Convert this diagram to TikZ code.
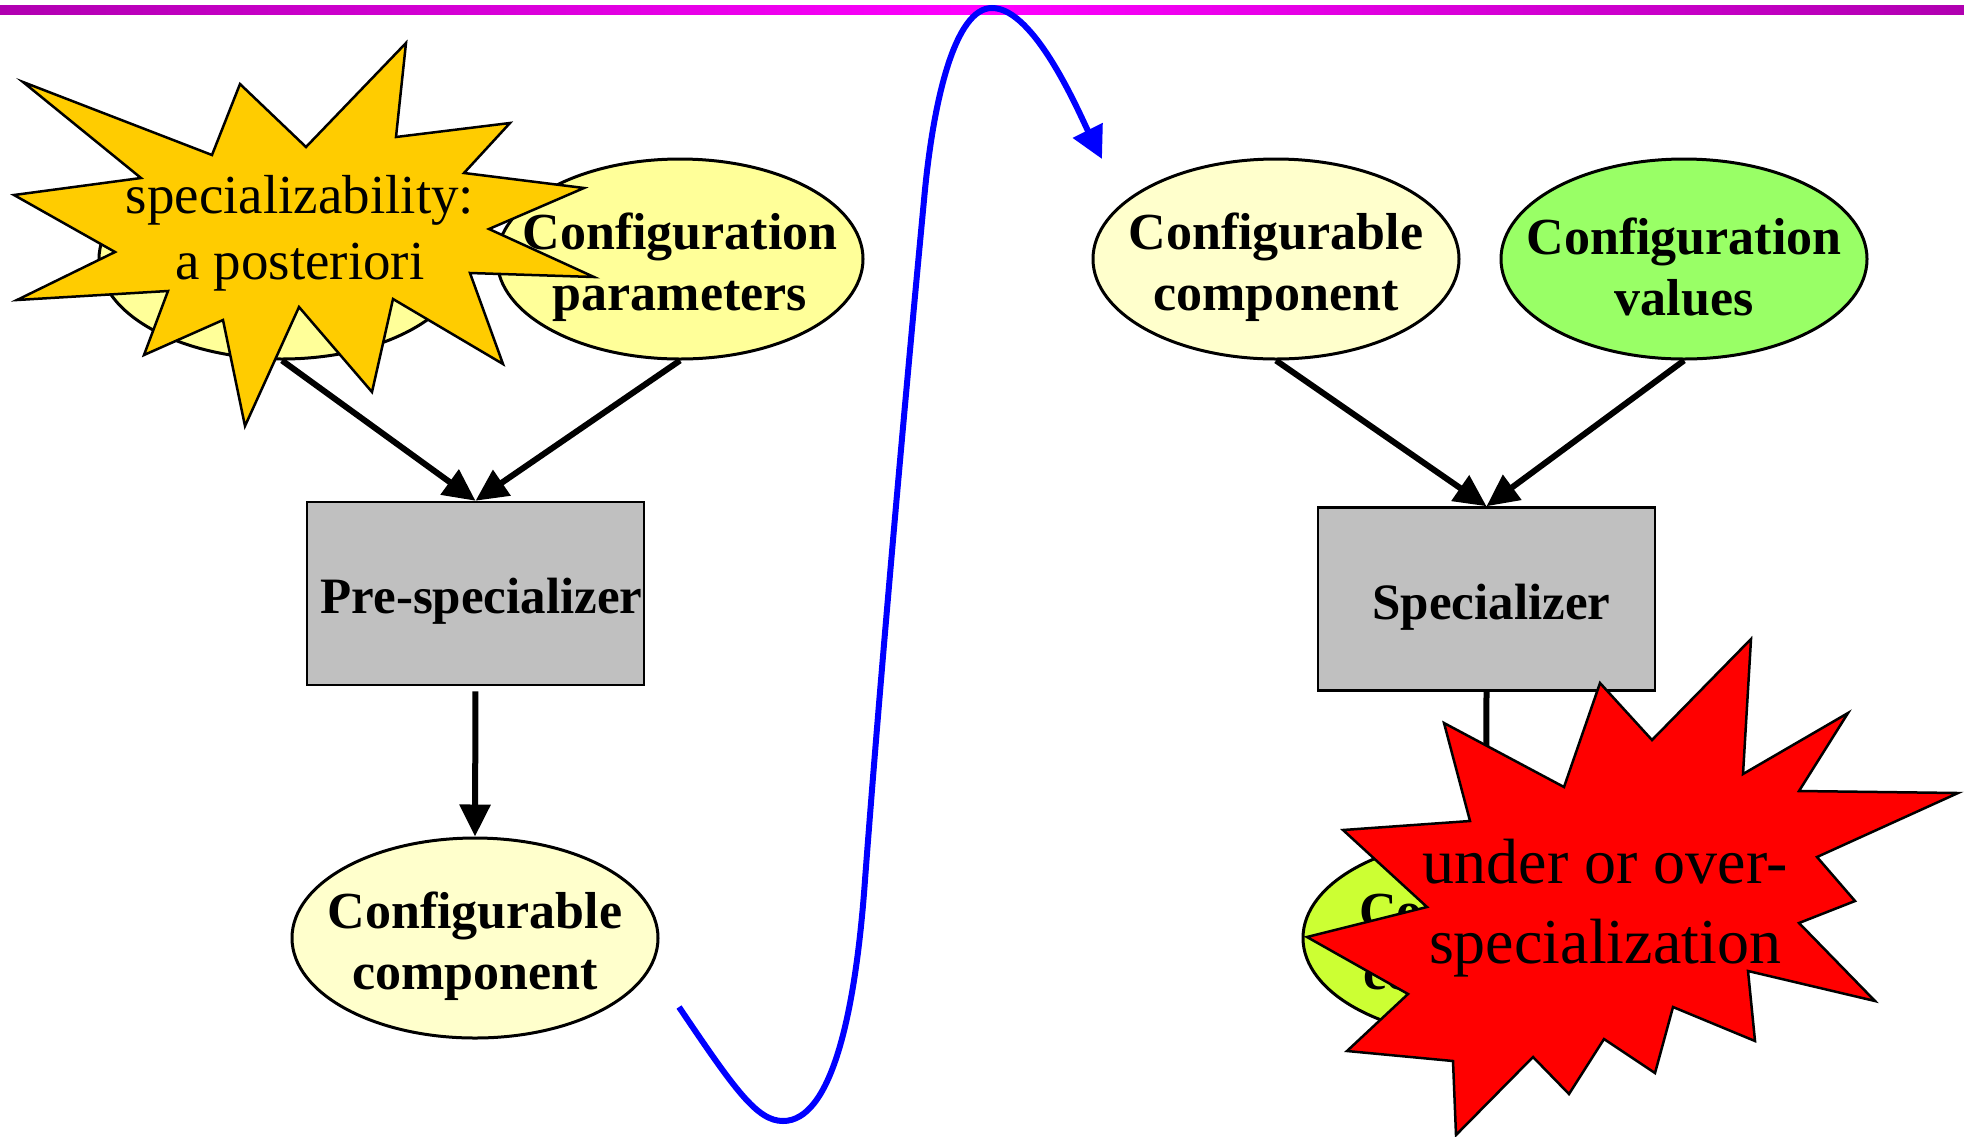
\documentclass[tikz,border=0pt]{standalone}
\usepackage{fontspec}
\setmainfont{Liberation Serif}
\usetikzlibrary{shapes.geometric,arrows.meta}
\definecolor{paleyellow}{HTML}{FFFFCC}
\definecolor{lightyellow}{HTML}{FFFF99}
\definecolor{lightgreen}{HTML}{99FF66}
\definecolor{limegreen}{HTML}{CCFF33}
\definecolor{boxgray}{HTML}{C0C0C0}
\definecolor{staryellow}{HTML}{FFCC00}
\definecolor{barpurple}{HTML}{B000B0}
\definecolor{barmagenta}{HTML}{FF00FF}
\begin{document}
\begin{tikzpicture}[x=1pt,y=-1pt,
  ell/.style={ellipse,draw=black,line width=3pt,minimum width=366pt,minimum height=200pt,inner sep=0pt},
  elltext/.style={inner sep=0pt,align=center,font=\fontsize{52}{61}\selectfont\bfseries,yshift=-8pt},
  proc/.style={rectangle,draw=black,line width=2.5pt,fill=boxgray,minimum width=337pt,minimum height=183pt,inner sep=0pt},
  proctext/.style={inner sep=0pt,font=\fontsize{51}{60}\selectfont\bfseries,yshift=-8pt},
  flow/.style={line width=6pt,-{Triangle[length=32pt,width=30pt]}},
  burst/.style={draw=black,line width=2.5pt,line join=miter},
  bursttext/.style={inner sep=0pt,align=center},
  bluecurve/.style={draw=blue,line width=6pt,-{Triangle[length=32pt,width=32pt]}}
]
\useasboundingbox (0,0) rectangle (1964,1136);
\fill[white] (0,0) rectangle (1964,1136);
% top bar
\shade[left color=barpurple,right color=barpurple,middle color=barmagenta] (0,5) rectangle (1964,14);

% left panel
\node[ell,fill=lightyellow] (cc1) at (282,259) {};
\node[ell,fill=lightyellow] (cp) at (680,259) {};
\node[elltext] (cptext) at (cp) {Configuration\\parameters};
\node[proc] (pre) at (475.5,593.5) {};
\node[proctext,xshift=6pt] (pretext) at (pre) {Pre-specializer};
\node[ell,fill=paleyellow] (cc2) at (475,938) {};
\node[elltext] (cc2text) at (cc2) {Configurable\\component};
\draw[flow] (cc1.south) -- (pre.north);
\draw[flow] (cp.south) -- (pre.north);
\draw[flow,shorten <=5pt] (pre.south) -- (cc2.north);

% right panel
\node[ell,fill=paleyellow] (cc3) at (1276,259) {};
\node[elltext] (cc3text) at (cc3) {Configurable\\component};
\node[ell,fill=lightgreen] (cv) at (1684,259) {};
\node[elltext] (cvtext) at (cv) {Configuration\\values};
\node[proc] (spec) at (1486.5,599) {};
\node[proctext,xshift=5pt] (spectxt) at (spec) {Specializer};
\node[ell,fill=limegreen] (cc4) at (1486,938) {};
\node[elltext] (cc4text) at (cc4) {Configured\\component};
\draw[flow] (cc3.south) -- (spec.north);
\draw[flow] (cv.south) -- (spec.north);
\draw[flow] (spec.south) -- (cc4.north);

% yellow starburst
\draw[burst,fill=staryellow] (23,82) -- (212,155) -- (240,84) -- (306,147) -- (406,43) -- (396,137) -- (510,123) -- (464,173) -- (584,188) -- (489,229) -- (594,277) -- (470,273) -- (503,364) -- (393,299) -- (372,392) -- (299,307) -- (245,426) -- (223,320) -- (144,355) -- (168,291) -- (17,300) -- (115,252) -- (14,195) -- (141,178) -- cycle;
\node[bursttext,font=\fontsize{55}{66}\selectfont] (spectext) at (300,233) {specializability:\\a posteriori};

% red starburst
\draw[burst,fill=red] (1444,723) -- (1564,787) -- (1600,683) -- (1652,740) -- (1751,639) -- (1743,774) -- (1848,713) -- (1799,791) -- (1958,793) -- (1817,857) -- (1855,901) -- (1799,923) -- (1875,1001) -- (1748,971) -- (1755,1041) -- (1673,1007) -- (1655,1073) -- (1604,1039) -- (1569,1094) -- (1533,1057) -- (1456,1135) -- (1453,1061) -- (1347,1051) -- (1408,994) -- (1307,937) -- (1427,907) -- (1343,830) -- (1470,821) -- cycle;
\node[bursttext,font=\fontsize{64}{80}\selectfont] (overtext) at (1605,908) {under or over-\\specialization};

% blue curve
\coordinate (cs) at (679,1007);
\coordinate (ce) at (1102,159);
\draw[bluecurve] (cs) .. controls (735,1090) and (757,1121) .. (783,1121) .. controls (830,1121) and (855,1020) .. (865,880) .. controls (880,680) and (905,400) .. (924,200) .. controls (933,100) and (955,8) .. (992,8) .. controls (1035,8) and (1080,115) .. (ce);
\end{tikzpicture}
\end{document}
